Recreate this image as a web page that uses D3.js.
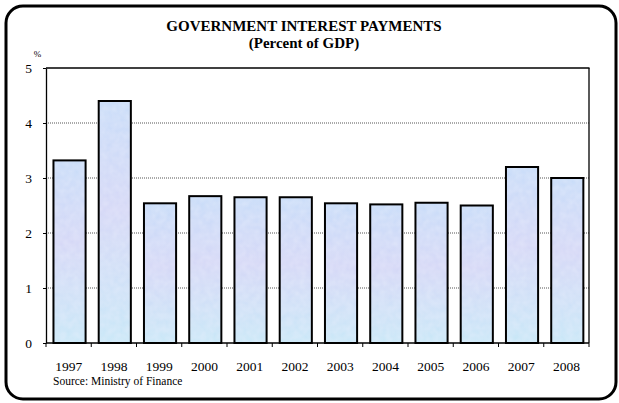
<!DOCTYPE html>
<html><head><meta charset="utf-8">
<script src="https://cdn.jsdelivr.net/npm/d3@7"></script>
<style>body{margin:0;background:#fff}svg{display:block}</style>
</head><body>
<script>
const years = ["1997","1998","1999","2000","2001","2002","2003","2004","2005","2006","2007","2008"];
const values = [3.32, 4.40, 2.54, 2.67, 2.65, 2.65, 2.54, 2.52, 2.55, 2.50, 3.20, 3.00];
const yTicks = [0,1,2,3,4,5];
const title1 = "GOVERNMENT INTEREST PAYMENTS";
const title2 = "(Percent of GDP)";
const source = "Source: Ministry of Finance";

const W=619,H=403;
const svg=d3.select("body").append("svg").attr("width",W).attr("height",H);
const font="'Liberation Serif','Times New Roman',serif";
const defs=svg.append("defs");
const g=defs.append("linearGradient").attr("id","bg").attr("x1",0).attr("y1",0).attr("x2",0).attr("y2",1);
g.append("stop").attr("offset","0%").attr("stop-color","#c5dbf8");
g.append("stop").attr("offset","45%").attr("stop-color","#d4d6f6");
g.append("stop").attr("offset","100%").attr("stop-color","#c6e7f7");
const f=defs.append("filter").attr("id","tex").attr("x",0).attr("y",0).attr("width",1).attr("height",1);
f.append("feTurbulence").attr("type","fractalNoise").attr("baseFrequency",0.15).attr("numOctaves",2).attr("seed",5).attr("result","n");
f.append("feColorMatrix").attr("in","n").attr("type","matrix")
 .attr("values","0 0 0 0 0.85  0 0 0 0 0.88  0 0 0 0 0.98  0 0 0 0.45 0").attr("result","c");
f.append("feComposite").attr("in","c").attr("in2","SourceGraphic").attr("operator","atop");

svg.append("rect").attr("x",6).attr("y",6).attr("width",610).attr("height",393).attr("rx",17).attr("ry",17)
 .attr("fill","#fff").attr("stroke","#000").attr("stroke-width",3);

svg.append("text").attr("x",304).attr("y",31).attr("text-anchor","middle").attr("font-family",font)
 .attr("font-weight","bold").attr("font-size",15).text(title1);
svg.append("text").attr("x",304).attr("y",48).attr("text-anchor","middle").attr("font-family",font)
 .attr("font-weight","bold").attr("font-size",15).text(title2);
svg.append("text").attr("x",37.5).attr("y",56.5).attr("text-anchor","middle").attr("font-family",font)
 .attr("font-size",9).text("%");

const L=46,R=589,T=68,B=343;
const xb=d3.scaleBand().domain(years).range([L,R]);
const y=d3.scaleLinear().domain([0,5]).range([B,T]);
const bw=xb.bandwidth();

// gridlines
svg.append("g").selectAll("line").data(yTicks.filter(d=>d>0&&d<5)).join("line")
 .attr("x1",L).attr("x2",R).attr("y1",d=>y(d)).attr("y2",d=>y(d))
 .attr("stroke","#555").attr("stroke-width",1).attr("stroke-dasharray","1,1");
// top and right border
svg.append("line").attr("x1",L).attr("x2",R+0.5).attr("y1",y(5)).attr("y2",y(5)).attr("stroke","#000").attr("stroke-width",1.3);
svg.append("line").attr("x1",R).attr("x2",R).attr("y1",y(5)).attr("y2",B).attr("stroke","#000").attr("stroke-width",1.3);

// bars
const bx=d=>xb(d)+bw*0.165, bwid=bw*0.71;
svg.append("g").selectAll("rect").data(values).join("rect")
 .attr("x",(d,i)=>bx(years[i])).attr("y",d=>y(d)).attr("width",bwid).attr("height",d=>B-y(d))
 .attr("fill","url(#bg)").attr("filter","url(#tex)");
svg.append("g").selectAll("rect").data(values).join("rect")
 .attr("x",(d,i)=>bx(years[i])).attr("y",d=>y(d)).attr("width",bwid).attr("height",d=>B-y(d))
 .attr("fill","none").attr("stroke","#000").attr("stroke-width",2);

// y axis
const ya=svg.append("g").attr("transform",`translate(${L},0)`)
 .call(d3.axisLeft(y).tickValues(yTicks).tickSize(3).tickSizeOuter(0).tickPadding(11).tickFormat(d3.format("d")));
ya.select(".domain").attr("stroke","#000").attr("stroke-width",1.3);
ya.selectAll(".tick line").attr("stroke","#000");
ya.selectAll("text").attr("font-family",font).attr("font-size",13.5).attr("fill","#000");

// x axis
const xa=svg.append("g").attr("transform",`translate(0,${B})`);
xa.append("line").attr("x1",L).attr("x2",R).attr("stroke","#000").attr("stroke-width",1.3);
xa.selectAll("line.t").data(years.concat(["end"])).join("line").attr("class","t")
 .attr("x1",(d,i)=>L+i*bw).attr("x2",(d,i)=>L+i*bw).attr("y1",0).attr("y2",4).attr("stroke","#000");
xa.selectAll("text").data(years).join("text")
 .attr("x",d=>xb(d)+bw/2).attr("y",28).attr("text-anchor","middle")
 .attr("font-family",font).attr("font-size",13.5).text(d=>d);

svg.append("text").attr("x",53).attr("y",385).attr("font-family",font).attr("font-size",11.5).text(source);
</script>
</body></html>
